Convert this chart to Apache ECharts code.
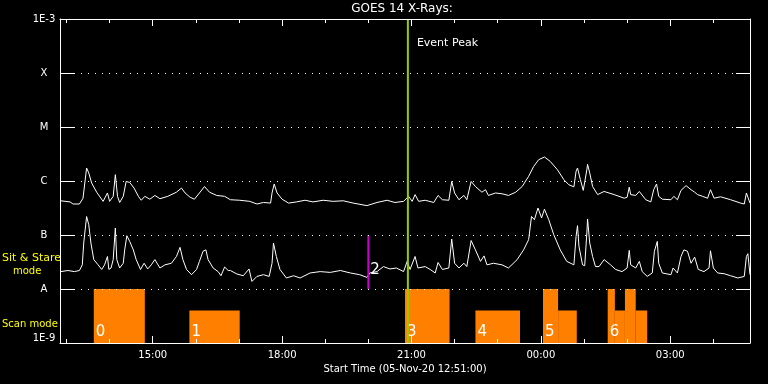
<!DOCTYPE html>
<html><head><meta charset="utf-8">
<style>html,body{margin:0;padding:0;background:#000}#c{width:768px;height:384px}</style>
<script src="https://cdn.jsdelivr.net/npm/echarts@6.0.0/dist/echarts.min.js"></script>
</head><body><div id="c"></div>
<script>
// time axis: minutes after 05-Nov-20 12:51:00
const hourTicks = [9,69,129,189,249,309,369,429,489,549,609,669,729,789,849,909];
const majorTicks = [129,309,489,669,849];
const majorLabels = ['15:00','18:00','21:00','00:00','03:00'];
const yTickLabels = ['1E-9','A','B','C','M','X','1E-3'];
const Y_MIN = 1e-9, Y_MAX = 1e-3, T_MAX = 960;

// GOES 14 long channel (1-8 A), [minutes, W/m^2]
const longChannel = [[1,4.3e-7],[14,4.1e-7],[18,3.75e-7],[27,3.75e-7],[32,4.8e-7],[37,1.74e-6],[40,1.41e-6],[44,9.2e-7],[51,6.2e-7],[60,4.2e-7],[66,6.0e-7],[69,4.2e-7],[74,5.2e-7],[77,1.31e-6],[80,5.2e-7],[83,4.0e-7],[88,5.2e-7],[92,9.8e-7],[97,9.4e-7],[103,7.4e-7],[109,5.2e-7],[113,4.4e-7],[118,5.2e-7],[125,4.6e-7],[132,5.4e-7],[139,4.7e-7],[150,5.2e-7],[162,6.2e-7],[169,7.4e-7],[174,6.0e-7],[181,5.0e-7],[187,4.6e-7],[194,6.0e-7],[201,7.9e-7],[208,6.2e-7],[218,5.4e-7],[229,5.2e-7],[237,4.5e-7],[250,4.4e-7],[264,4.2e-7],[274,3.75e-7],[283,4.0e-7],[293,3.9e-7],[295,6.0e-7],[298,8.8e-7],[302,6.0e-7],[309,4.6e-7],[318,3.9e-7],[329,4.1e-7],[341,4.4e-7],[352,4.1e-7],[366,4.4e-7],[380,4.2e-7],[394,4.3e-7],[408,3.9e-7],[427,3.5e-7],[441,4.0e-7],[455,4.4e-7],[466,4.0e-7],[478,4.2e-7],[485,5.2e-7],[490,4.2e-7],[494,5.6e-7],[499,4.2e-7],[508,4.4e-7],[520,4.0e-7],[526,5.4e-7],[532,4.5e-7],[541,4.4e-7],[545,9.8e-7],[549,6.0e-7],[555,4.5e-7],[562,5.4e-7],[566,4.5e-7],[572,9.8e-7],[578,7.9e-7],[587,6.2e-7],[592,6.9e-7],[596,5.4e-7],[606,6.0e-7],[615,5.8e-7],[624,5.4e-7],[634,6.2e-7],[643,7.9e-7],[652,1.22e-6],[659,1.86e-6],[666,2.48e-6],[674,2.78e-6],[682,2.31e-6],[692,1.62e-6],[701,1.06e-6],[708,8.5e-7],[715,7.8e-7],[718,1.51e-6],[720,1.74e-6],[724,1.06e-6],[728,6.7e-7],[730,6.4e-7],[733,1.62e-6],[734,2.03e-6],[737,1.41e-6],[741,7.9e-7],[748,5.6e-7],[757,6.4e-7],[771,5.6e-7],[785,4.8e-7],[789,5.0e-7],[792,7.7e-7],[794,5.6e-7],[801,5.4e-7],[806,6.4e-7],[815,4.5e-7],[822,4.1e-7],[826,6.9e-7],[830,8.8e-7],[833,5.2e-7],[838,4.6e-7],[850,4.5e-7],[854,5.2e-7],[859,4.5e-7],[864,6.7e-7],[871,8.2e-7],[878,6.9e-7],[883,6.2e-7],[887,5.6e-7],[894,5.2e-7],[901,4.8e-7],[905,6.9e-7],[910,4.8e-7],[919,5.1e-7],[933,4.5e-7],[947,3.9e-7],[952,3.75e-7],[955,6.0e-7],[957,6.2e-7],[960,3.9e-7]];

// GOES 14 short channel (0.5-4 A), [minutes, W/m^2]
const shortChannel = [[1,2.1e-8],[11,2.2e-8],[20,2.1e-8],[27,2.2e-8],[31,2.8e-8],[33,7.1e-8],[37,2.2e-7],[40,1.55e-7],[43,7.1e-8],[47,3.5e-8],[53,2.8e-8],[58,2.3e-8],[62,2.8e-8],[66,4.0e-8],[68,2.3e-8],[71,2.45e-8],[74,3.5e-8],[77,1.35e-7],[79,3.5e-8],[83,2.45e-8],[88,3.0e-8],[90,5.3e-8],[93,9.7e-8],[97,7.6e-8],[102,5.3e-8],[106,3.5e-8],[112,2.3e-8],[117,3.0e-8],[122,2.35e-8],[127,2.8e-8],[132,3.5e-8],[139,2.45e-8],[146,2.8e-8],[155,3.0e-8],[162,4.0e-8],[167,5.9e-8],[171,3.5e-8],[176,2.3e-8],[183,1.84e-8],[190,2.3e-8],[194,3.25e-8],[199,5.0e-8],[203,5.3e-8],[206,3.5e-8],[213,2.45e-8],[220,2.1e-8],[224,1.76e-8],[229,2.55e-8],[234,2.2e-8],[237,2.2e-8],[246,1.9e-8],[255,1.76e-8],[263,2.35e-8],[267,1.38e-8],[274,1.71e-8],[283,1.84e-8],[291,1.71e-8],[295,3.0e-8],[297,7.1e-8],[301,4.0e-8],[306,2.3e-8],[315,1.6e-8],[325,1.76e-8],[334,1.6e-8],[348,1.98e-8],[362,2.1e-8],[376,2.03e-8],[390,2.2e-8],[404,1.98e-8],[417,1.84e-8],[427,1.64e-8],[431,1.98e-8],[441,2.1e-8],[450,2.6e-8],[459,2.35e-8],[468,2.45e-8],[478,2.1e-8],[483,3.25e-8],[487,2.3e-8],[494,4.0e-8],[498,2.45e-8],[508,2.6e-8],[515,2.3e-8],[522,1.98e-8],[526,3.1e-8],[532,2.3e-8],[541,2.45e-8],[545,8.4e-8],[549,3.0e-8],[555,2.45e-8],[562,3.0e-8],[566,2.6e-8],[572,7.9e-8],[578,5.3e-8],[585,3.25e-8],[590,4.1e-8],[594,2.8e-8],[603,3.0e-8],[615,2.8e-8],[624,2.45e-8],[636,3.5e-8],[645,5.3e-8],[652,8.2e-8],[656,2.2e-7],[660,1.92e-7],[665,3.16e-7],[670,2.07e-7],[674,3.0e-7],[680,1.92e-7],[687,1.01e-7],[696,5.3e-8],[705,3.25e-8],[715,2.8e-8],[718,9.4e-8],[720,1.49e-7],[722,6.2e-8],[727,2.8e-8],[730,2.7e-8],[733,1.09e-7],[734,1.98e-7],[737,7.1e-8],[741,4.0e-8],[745,2.6e-8],[750,2.6e-8],[757,3.5e-8],[766,2.8e-8],[773,2.3e-8],[782,2.1e-8],[789,2.45e-8],[792,5.2e-8],[794,2.8e-8],[801,2.45e-8],[806,3.25e-8],[810,2.1e-8],[817,1.71e-8],[824,1.98e-8],[827,5.0e-8],[831,7.6e-8],[833,3.0e-8],[838,1.98e-8],[850,1.84e-8],[853,2.45e-8],[859,1.98e-8],[864,4.0e-8],[868,5.3e-8],[873,5.0e-8],[878,3.0e-8],[883,3.9e-8],[888,2.3e-8],[896,2.1e-8],[903,2.45e-8],[905,5.1e-8],[909,2.45e-8],[915,1.98e-8],[924,1.92e-8],[933,1.76e-8],[943,1.6e-8],[952,1.71e-8],[955,4.0e-8],[957,4.5e-8],[960,1.84e-8]];

// scan mode blocks (minutes), level = bar height
const scanStart = [47,180,480,578,672,693,762,772,786,801];
const scanEnd   = [118,250,542,640,693,719,772,786,801,817];
const scanLevel = [1e-8,4e-9,1e-8,4e-9,1e-8,4e-9,1e-8,4e-9,1e-8,4e-9];
const scanIds = ['0','1','3','4','5','6'];
const scanIdTimes = [47,180,480,578,672,762];

// sit & stare marker
const stareTimes = [429];
const stareTop = [1e-7];
const stareBottom = [1e-8];
const stareIds = ['2'];

// event peak
const eventTimes = [484];
const eventLabels = ['Event Peak'];

const FONT = 'DejaVu Sans';
const chart = echarts.init(document.getElementById('c'), null, {renderer:'canvas'});

const xBase = {type:'value', min:0, max:T_MAX, gridIndex:0, splitLine:{show:false}, z:10};
const white = {color:'#fff', width:1};

chart.setOption({
  backgroundColor:'#000',
  animation:false,
  grid:{left:60, right:18, top:19, bottom:41, containLabel:false},
  xAxis:[
    Object.assign({}, xBase, {position:'bottom',
      axisLine:{show:true, onZero:false, lineStyle:white},
      axisTick:{show:true, inside:true, length:4, lineStyle:white, customValues:hourTicks},
      axisLabel:{show:true, color:'#fff', fontFamily:FONT, fontSize:10, margin:7, customValues:majorTicks,
        formatter:(v)=>{const i=majorTicks.indexOf(Math.round(v)); return i>=0?majorLabels[i]:'';}},
      name:'Start Time (05-Nov-20 12:51:00)', nameLocation:'middle', nameGap:20,
      nameTextStyle:{color:'#fff', fontFamily:FONT, fontSize:10}}),
    Object.assign({}, xBase, {position:'bottom',
      axisLine:{show:false}, axisLabel:{show:false},
      axisTick:{show:true, inside:true, length:7, lineStyle:white, customValues:majorTicks}}),
    Object.assign({}, xBase, {position:'top',
      axisLine:{show:true, onZero:false, lineStyle:white}, axisLabel:{show:false},
      axisTick:{show:true, inside:true, length:4, lineStyle:white, customValues:hourTicks}}),
    Object.assign({}, xBase, {position:'top',
      axisLine:{show:false}, axisLabel:{show:false},
      axisTick:{show:true, inside:true, length:7, lineStyle:white, customValues:majorTicks}})
  ],
  yAxis:[
    {type:'log', logBase:10, min:Y_MIN, max:Y_MAX, position:'left', z:10,
      axisLine:{show:true, onZero:false, lineStyle:white},
      axisTick:{show:true, inside:true, length:14, lineStyle:white},
      splitLine:{show:true, lineStyle:{color:'#fff', width:1, type:[1,6]}},
      axisLabel:{show:true, color:'#fff', fontFamily:FONT, fontSize:10, margin:16, align:'center',
        verticalAlignMinLabel:'bottom', verticalAlignMaxLabel:'top',
        formatter:(v)=>{const k=Math.round(Math.log10(v))+9; return yTickLabels[k]||'';}}},
    {type:'log', logBase:10, min:Y_MIN, max:Y_MAX, position:'right', z:10,
      axisLine:{show:true, onZero:false, lineStyle:white},
      axisTick:{show:true, inside:true, length:14, lineStyle:white},
      splitLine:{show:false}, axisLabel:{show:false}}
  ],
  graphic:[
    {type:'text', x:402, y:9, style:{text:'GOES 14 X-Rays:', fill:'#fff', font:'12px '+FONT, align:'center', verticalAlign:'middle'}},
    {type:'text', x:2, y:258, style:{text:'Sit & Stare', fill:'#ffff00', font:'11px '+FONT, align:'left', verticalAlign:'middle'}},
    {type:'text', x:13, y:271, style:{text:'mode', fill:'#ffff00', font:'10px '+FONT, align:'left', verticalAlign:'middle'}},
    {type:'text', x:2, y:324, style:{text:'Scan mode', fill:'#ffff00', font:'10px '+FONT, align:'left', verticalAlign:'middle'}}
  ],
  series:[
    {type:'custom', name:'scan', xAxisIndex:0, yAxisIndex:0, silent:true, z:1,
      data: scanStart.map((s,i)=>[s, scanEnd[i], scanLevel[i]]),
      encode:{x:[0,1], y:2},
      renderItem:(params, api)=>{
        const tl = api.coord([api.value(0), api.value(2)]);
        const br = api.coord([api.value(1), Y_MIN]);
        return {type:'rect', shape:{x:tl[0], y:tl[1], width:br[0]-tl[0], height:br[1]-tl[1]}, style:{fill:'#ff8000'}};
      }},
    {type:'custom', name:'scanIds', xAxisIndex:0, yAxisIndex:0, silent:true, z:3,
      data: scanIdTimes.map(t=>[t, Y_MIN]),
      encode:{x:0, y:1},
      renderItem:(params, api)=>{
        const p = api.coord([api.value(0), api.value(1)]);
        return {type:'text', x:p[0]+2, y:p[1]-3, style:{text:scanIds[params.dataIndex], fill:'#fff', font:'15px '+FONT, align:'left', verticalAlign:'bottom'}};
      }},
    {type:'line', name:'long', xAxisIndex:0, yAxisIndex:0, data:longChannel, showSymbol:false, symbol:'none',
      lineStyle:{color:'#fff', width:1}, z:4, silent:true},
    {type:'line', name:'short', xAxisIndex:0, yAxisIndex:0, data:shortChannel, showSymbol:false, symbol:'none',
      lineStyle:{color:'#fff', width:1}, z:4, silent:true},
    {type:'custom', name:'stare', xAxisIndex:0, yAxisIndex:0, silent:true, z:5,
      data: stareTimes.map((t,i)=>[t, stareTop[i], stareBottom[i]]),
      encode:{x:0, y:[1,2]},
      renderItem:(params, api)=>{
        const a = api.coord([api.value(0), api.value(1)]);
        const b = api.coord([api.value(0), api.value(2)]);
        return {type:'group', children:[
          {type:'line', shape:{x1:a[0], y1:a[1], x2:b[0], y2:b[1]}, style:{stroke:'#cc00cc', lineWidth:2}},
          {type:'text', x:b[0]+2, y:b[1]-11, style:{text:stareIds[params.dataIndex], fill:'#fff', font:'15px '+FONT, align:'left', verticalAlign:'bottom'}}
        ]};
      }},
    {type:'custom', name:'event', xAxisIndex:0, yAxisIndex:0, silent:true, z:6,
      data: eventTimes.map(t=>[t, Y_MAX]),
      encode:{x:0, y:1},
      renderItem:(params, api)=>{
        const top = api.coord([api.value(0), Y_MAX]);
        const bot = api.coord([api.value(0), Y_MIN]);
        return {type:'group', children:[
          {type:'line', shape:{x1:top[0], y1:top[1], x2:bot[0], y2:bot[1]}, style:{stroke:'#99cc00', lineWidth:2}},
          {type:'text', x:top[0]+9, y:top[1]+24, style:{text:eventLabels[params.dataIndex], fill:'#fff', font:'11px '+FONT, align:'left', verticalAlign:'middle'}}
        ]};
      }}
  ]
});
</script>
</body></html>
